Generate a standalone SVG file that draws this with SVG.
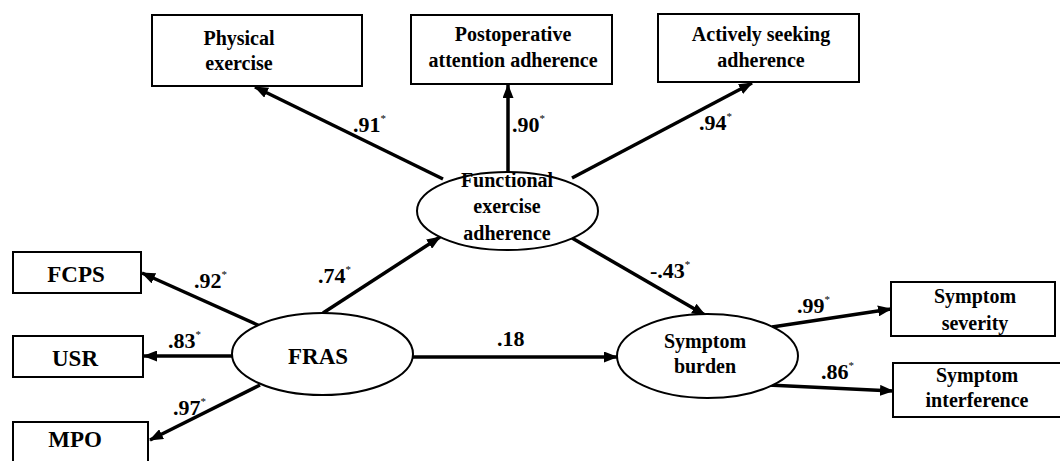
<svg xmlns="http://www.w3.org/2000/svg" width="1060" height="461" viewBox="0 0 1060 461">
<style>
.box{fill:#fff;stroke:#000;stroke-width:2}
.ell{fill:#fff;stroke:#000;stroke-width:2}
.t{font-family:'Liberation Serif',serif;font-weight:bold;font-size:20px;fill:#000;text-anchor:middle}
.tb{font-family:'Liberation Serif',serif;font-weight:bold;font-size:23px;fill:#000;text-anchor:middle}
.lb{font-family:'Liberation Serif',serif;font-weight:bold;font-size:22px;fill:#000}
.sup{font-size:11px;font-weight:normal}
.c{stroke:#000;stroke-width:3.5;fill:none;marker-end:url(#ah)}
</style>
<defs>
<marker id="ah" markerWidth="14" markerHeight="11" refX="13" refY="5.5" orient="auto" markerUnits="userSpaceOnUse">
<path d="M0,0 L14,5.5 L0,11 z" fill="#000"/>
</marker>
</defs>
<rect width="1060" height="461" fill="#fff"/>
<g id="connectors">
<line class="c" x1="443" y1="179" x2="255" y2="87"/>
<line class="c" x1="508" y1="172" x2="508" y2="85"/>
<line class="c" x1="572" y1="178" x2="752" y2="83"/>
<line class="c" x1="572" y1="238" x2="705" y2="315"/>
<line class="c" x1="323" y1="313" x2="440" y2="237"/>
<line class="c" x1="260" y1="326" x2="142" y2="273"/>
<line class="c" x1="232" y1="356" x2="144" y2="356"/>
<line class="c" x1="260" y1="385" x2="150" y2="440"/>
<line class="c" x1="413" y1="357" x2="617" y2="357"/>
<line class="c" x1="772" y1="327" x2="891" y2="309"/>
<line class="c" x1="768" y1="385" x2="893" y2="391"/>
</g>
<g id="labels">
<text class="lb" x="353" y="132">.91<tspan class="sup" dy="-10">*</tspan></text>
<text class="lb" x="512" y="132">.90<tspan class="sup" dy="-10">*</tspan></text>
<text class="lb" x="699" y="130">.94<tspan class="sup" dy="-10">*</tspan></text>
<text class="lb" x="318" y="283">.74<tspan class="sup" dy="-10">*</tspan></text>
<text class="lb" x="194" y="288">.92<tspan class="sup" dy="-10">*</tspan></text>
<text class="lb" x="168" y="348">.83<tspan class="sup" dy="-10">*</tspan></text>
<text class="lb" x="173" y="415">.97<tspan class="sup" dy="-10">*</tspan></text>
<text class="lb" x="497" y="346">.18</text>
<text class="lb" x="650" y="278">-.43<tspan class="sup" dy="-10">*</tspan></text>
<text class="lb" x="797" y="313">.99<tspan class="sup" dy="-10">*</tspan></text>
<text class="lb" x="821" y="379">.86<tspan class="sup" dy="-10">*</tspan></text>
</g>
<g id="physical-exercise">
<rect class="box" x="152" y="15" width="210" height="71"/>
<text class="t" x="239" y="45">Physical</text>
<text class="t" x="239" y="70">exercise</text>
</g>
<g id="postoperative-attention-adherence">
<rect class="box" x="411" y="15" width="201" height="69"/>
<text class="t" x="513" y="41">Postoperative</text>
<text class="t" x="513" y="67">attention adherence</text>
</g>
<g id="actively-seeking-adherence">
<rect class="box" x="658" y="14" width="201" height="68"/>
<text class="t" x="761" y="41">Actively seeking</text>
<text class="t" x="761" y="67">adherence</text>
</g>
<g id="functional-exercise-adherence">
<ellipse class="ell" cx="507.5" cy="211" rx="90.5" ry="39"/>
<text class="t" x="507" y="187">Functional</text>
<text class="t" x="507" y="213">exercise</text>
<text class="t" x="507" y="240">adherence</text>
</g>
<g id="fcps">
<rect class="box" x="13" y="252" width="128" height="41"/>
<text class="tb" x="76" y="282">FCPS</text>
</g>
<g id="usr">
<rect class="box" x="13" y="336" width="130" height="41"/>
<text class="tb" x="75" y="366">USR</text>
</g>
<g id="mpo">
<rect class="box" x="13" y="422" width="135" height="50"/>
<text class="tb" x="75" y="447">MPO</text>
</g>
<g id="fras">
<ellipse class="ell" cx="322.5" cy="354" rx="90.5" ry="41"/>
<text class="tb" x="318" y="364">FRAS</text>
</g>
<g id="symptom-burden">
<ellipse class="ell" cx="707.5" cy="356" rx="90.5" ry="42"/>
<text class="t" x="705" y="348">Symptom</text>
<text class="t" x="705" y="373">burden</text>
</g>
<g id="symptom-severity">
<rect class="box" x="891" y="282" width="164" height="54"/>
<text class="t" x="975" y="303">Symptom</text>
<text class="t" x="975" y="330">severity</text>
</g>
<g id="symptom-interference">
<rect class="box" x="893" y="363" width="170" height="54"/>
<text class="t" x="977" y="382">Symptom</text>
<text class="t" x="977" y="407">interference</text>
</g>
</svg>
